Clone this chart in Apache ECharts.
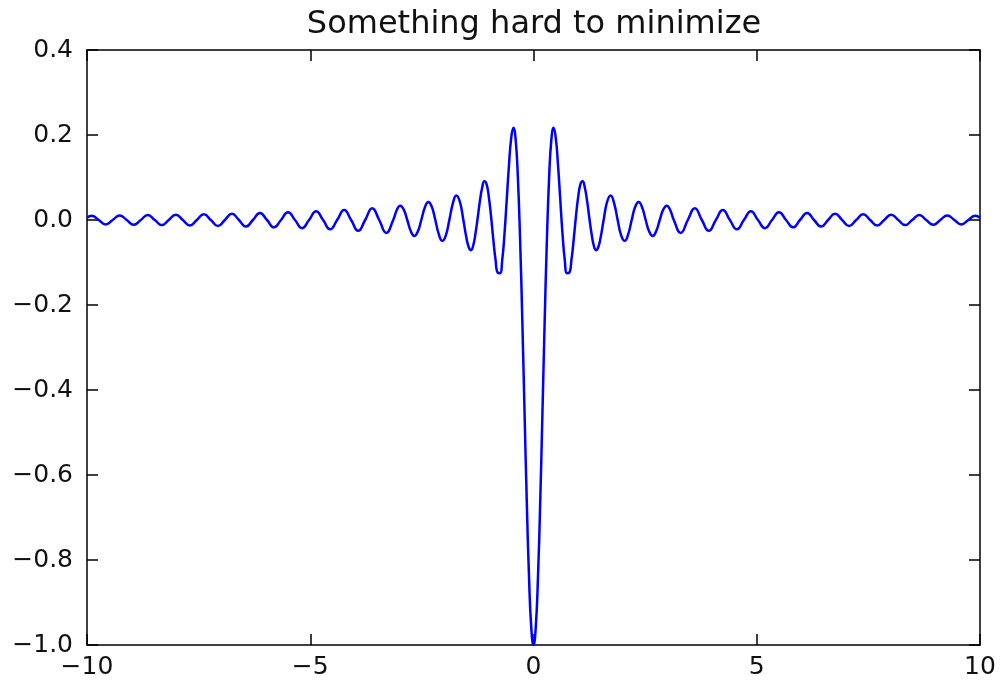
<!DOCTYPE html>
<html>
<head>
<meta charset="utf-8">
<script src="https://cdn.jsdelivr.net/npm/echarts@6/dist/echarts.min.js"></script>
<style>
html,body{margin:0;padding:0;background:#fff;}
#chart{width:1002px;height:690px;}
</style>
</head>
<body>
<div id="chart"></div>
<script>
const titleText = 'Something hard to minimize';
const xTicks = [-10, -5, 0, 5, 10];
const yTicks = [0.4, 0.2, 0.0, -0.2, -0.4, -0.6, -0.8, -1.0];

// Curve (left half: outer extrema/zero crossings, then denser near the centre)
const xLeft = [-10, -9.896, -9.739, -9.582, -9.425, -9.268, -9.111, -8.954, -8.796, -8.639,
  -8.482, -8.325, -8.168, -8.011, -7.854, -7.697, -7.540, -7.383, -7.226, -7.069,
  -6.912, -6.754, -6.597, -6.440, -6.283, -6.126, -5.969, -5.812, -5.655, -5.498,
  -5.341, -5.184, -5.027, -4.869, -4.712, -4.555, -4.398, -4.241, -4.084, -3.927,
  -3.770, -3.613, -3.456, -3.299, -3.142,
  -3.063, -2.985, -2.906, -2.827, -2.749, -2.670, -2.592, -2.513, -2.435, -2.356,
  -2.278, -2.199, -2.121, -2.042, -1.963, -1.885, -1.806, -1.728, -1.649, -1.571,
  -1.50, -1.45, -1.40, -1.35, -1.30, -1.25, -1.20, -1.15, -1.10, -1.05,
  -1.00, -0.95, -0.90, -0.85, -0.80, -0.75, -0.70, -0.65, -0.60, -0.55,
  -0.50, -0.45, -0.40, -0.35, -0.30, -0.25, -0.20, -0.15, -0.10, -0.05];
const yLeft = [0.005, 0.0101, 0, -0.0104, 0, 0.0108, 0, -0.0112, 0, 0.0116,
  0, -0.0120, 0, 0.0125, 0, -0.0130, 0, 0.0135, 0, -0.0141,
  0, 0.0148, 0, -0.0155, 0, 0.0163, 0, -0.0172, 0, 0.0182,
  0, -0.0193, 0, 0.0205, 0, -0.0220, 0, 0.0236, 0, -0.0255,
  0, 0.0277, 0, -0.0303, 0,
  0.0231, 0.0335, 0.0243, 0, -0.0257, -0.0375, -0.0273, 0, 0.0290, 0.0424,
  0.0310, 0, -0.0333, -0.049, -0.0360, 0, 0.0391, 0.0579, 0.0429, 0,
  -0.043, -0.064, -0.071, -0.060, -0.032, 0.005, 0.045, 0.076, 0.091, 0.084,
  0.054, 0.008, -0.046, -0.094, -0.124, -0.125, -0.094, -0.033, 0.047, 0.128,
  0.192, 0.217, 0.189, 0.100, -0.047, -0.239, -0.455, -0.665, -0.841, -0.959];
// centre
const xMid = [0];
const yMid = [-1];
// right half
const xRight = [0.05, 0.10, 0.15, 0.20, 0.25, 0.30, 0.35, 0.40, 0.45, 0.50,
  0.55, 0.60, 0.65, 0.70, 0.75, 0.80, 0.85, 0.90, 0.95, 1.00,
  1.05, 1.10, 1.15, 1.20, 1.25, 1.30, 1.35, 1.40, 1.45, 1.50,
  1.571, 1.649, 1.728, 1.806, 1.885, 1.963, 2.042, 2.121, 2.199, 2.278,
  2.356, 2.435, 2.513, 2.592, 2.670, 2.749, 2.827, 2.906, 2.985, 3.063,
  3.142, 3.299, 3.456, 3.613, 3.770,
  3.927, 4.084, 4.241, 4.398, 4.555, 4.712, 4.869, 5.027, 5.184, 5.341,
  5.498, 5.655, 5.812, 5.969, 6.126, 6.283, 6.440, 6.597, 6.754, 6.912,
  7.069, 7.226, 7.383, 7.540, 7.697, 7.854, 8.011, 8.168, 8.325, 8.482,
  8.639, 8.796, 8.954, 9.111, 9.268, 9.425, 9.582, 9.739, 9.896, 10];
const yRight = [-0.959, -0.841, -0.665, -0.455, -0.239, -0.047, 0.100, 0.189, 0.217, 0.192,
  0.128, 0.047, -0.033, -0.094, -0.125, -0.124, -0.094, -0.046, 0.008, 0.054,
  0.084, 0.091, 0.076, 0.045, 0.005, -0.032, -0.060, -0.071, -0.064, -0.043,
  0, 0.0429, 0.0579, 0.0391, 0, -0.0360, -0.049, -0.0333, 0, 0.0310,
  0.0424, 0.0290, 0, -0.0273, -0.0375, -0.0257, 0, 0.0243, 0.0335, 0.0231,
  0, -0.0303, 0, 0.0277, 0,
  -0.0255, 0, 0.0236, 0, -0.0220, 0, 0.0205, 0, -0.0193, 0,
  0.0182, 0, -0.0172, 0, 0.0163, 0, -0.0155, 0, 0.0148, 0,
  -0.0141, 0, 0.0135, 0, -0.0130, 0, 0.0125, 0, -0.0120, 0,
  0.0116, 0, -0.0112, 0, 0.0108, 0, -0.0104, 0, 0.0101, 0.005];

const xs = xLeft.concat(xMid, xRight);
const ys = yLeft.concat(yMid, yRight);
const points = xs.map((x, i) => [x, ys[i]]);

const FONT = 'DejaVu Sans';
const minus = s => String(s).replace('-', '\u2212');
const fmtX = v => minus(Math.round(v));
const fmtY = v => minus((Math.round(v * 10) / 10).toFixed(1));

const lineStyle = {color: '#000', width: 1.5};
function mkX(pos, showLabel) {
  return {
    type: 'value', position: pos, min: xTicks[0], max: xTicks[xTicks.length - 1], interval: 5,
    axisLine: {show: true, onZero: false, lineStyle: lineStyle},
    axisTick: {show: true, inside: true, length: 11, lineStyle: lineStyle},
    axisLabel: {show: showLabel, fontFamily: FONT, fontSize: 25, color: '#111', margin: 10, formatter: fmtX},
    splitLine: {show: false}
  };
}
function mkY(pos, showLabel) {
  return {
    type: 'value', position: pos, min: yTicks[yTicks.length - 1], max: yTicks[0], interval: 0.2,
    axisLine: {show: true, onZero: false, lineStyle: lineStyle},
    axisTick: {show: true, inside: true, length: 11, lineStyle: lineStyle},
    axisLabel: {show: showLabel, fontFamily: FONT, fontSize: 25, color: '#111', margin: 14, formatter: fmtY},
    splitLine: {show: false}
  };
}

const chart = echarts.init(document.getElementById('chart'), null, {renderer: 'canvas'});
chart.setOption({
  animation: false,
  backgroundColor: '#fff',
  title: {
    text: titleText, left: 529, top: 4, textAlign: 'center',
    textStyle: {fontFamily: FONT, fontSize: 32, fontWeight: 'normal', color: '#111'}
  },
  grid: {left: 87, right: 22, top: 50, bottom: 45},
  xAxis: [mkX('bottom', true), mkX('top', false)],
  yAxis: [mkY('left', true), mkY('right', false)],
  series: [{
    type: 'line', data: points, xAxisIndex: 0, yAxisIndex: 0,
    showSymbol: false, smooth: 0.5, clip: true,
    lineStyle: {color: '#0000ff', width: 2.5}
  }]
});
</script>
</body>
</html>
